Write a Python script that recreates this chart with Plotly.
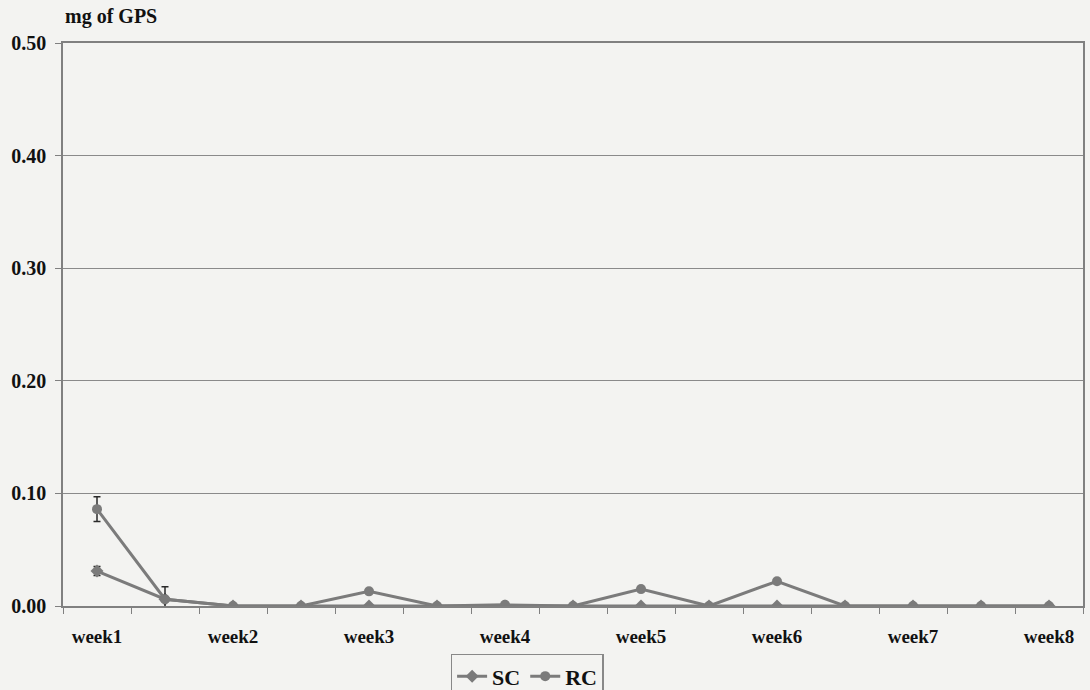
import plotly.graph_objects as go

# Sampling points (two per week), labelled on every week
week_labels = ["week1", "week2", "week3", "week4", "week5", "week6", "week7", "week8"]
sample_index = list(range(15))
label_index = [0, 2, 4, 6, 8, 10, 12, 14]

# mg of GPS released per sample
sc_values = [0.031, 0.006, 0.0, 0.0, 0.0, 0.0, 0.0, 0.0, 0.0, 0.0, 0.0, 0.0, 0.0, 0.0, 0.0]
sc_error = [0.004, 0.0, 0.0, 0.0, 0.0, 0.0, 0.0, 0.0, 0.0, 0.0, 0.0, 0.0, 0.0, 0.0, 0.0]
rc_values = [0.086, 0.006, 0.0, 0.0, 0.013, 0.0, 0.001, 0.0, 0.015, 0.0, 0.022, 0.0, 0.0, 0.0, 0.0]
rc_error = [0.011, 0.011, 0.0, 0.0, 0.0, 0.0, 0.0, 0.0, 0.0, 0.0, 0.0, 0.0, 0.0, 0.0, 0.0]

y_ticks = [0.0, 0.1, 0.2, 0.3, 0.4, 0.5]

SERIF = "Liberation Serif"
LINE_GREY = "#7b7b7b"
BG = "#f3f3f1"
TEXT = "#111111"

fig = go.Figure()

fig.add_trace(go.Scatter(
    x=sample_index, y=sc_values, name="SC", mode="lines+markers",
    line=dict(color=LINE_GREY, width=3),
    marker=dict(symbol="diamond", size=10, color=LINE_GREY),
    error_y=dict(type="data", array=sc_error, visible=True,
                 color="#2a2a2a", thickness=1.5, width=3.5),
))
fig.add_trace(go.Scatter(
    x=sample_index, y=rc_values, name="RC", mode="lines+markers",
    line=dict(color=LINE_GREY, width=3),
    marker=dict(symbol="circle", size=10, color=LINE_GREY),
    error_y=dict(type="data", array=rc_error, visible=True,
                 color="#2a2a2a", thickness=1.5, width=3.5),
))

fig.update_layout(
    width=1090, height=690,
    margin=dict(l=63, r=7, t=43, b=84, autoexpand=False),
    paper_bgcolor=BG, plot_bgcolor=BG,
    font=dict(family=SERIF, size=18, color=TEXT),
    showlegend=True,
    legend=dict(
        orientation="h", x=0.455, xanchor="center", y=-0.085, yanchor="top",
        bgcolor=BG, bordercolor="#888888", borderwidth=1.5,
        font=dict(family=SERIF, size=22, color=TEXT, weight="bold"),
        itemwidth=30, tracegroupgap=0,
    ),
    annotations=[dict(
        text="<b>mg of GPS</b>", xref="paper", yref="paper",
        x=0.0, y=1.0, xanchor="left", yanchor="bottom", yshift=13,
        showarrow=False, font=dict(family=SERIF, size=20, color=TEXT),
    )],
)

fig.update_xaxes(
    range=[-0.5, 14.5], tickmode="array", tickvals=label_index, ticktext=week_labels,
    ticks="", showgrid=False, zeroline=False, ticklabelstandoff=12,
    showline=True, linecolor="#808080", linewidth=1.5, mirror=True,
    tickfont=dict(family=SERIF, size=19, color=TEXT, weight="bold"),
    minor=dict(tickmode="linear", tick0=-0.5, dtick=1, ticks="outside",
               ticklen=6, tickcolor="#808080", tickwidth=1, showgrid=False),
)
fig.update_yaxes(
    range=[0, 0.5], tickmode="array", tickvals=y_ticks,
    ticktext=[f"{v:.2f}" for v in y_ticks],
    ticks="outside", ticklen=6, tickcolor="#808080", ticklabelstandoff=5,
    showgrid=True, gridcolor="#8a8a8a", gridwidth=1, zeroline=False,
    showline=True, linecolor="#808080", linewidth=1.5, mirror=True,
    tickfont=dict(family=SERIF, size=20, color=TEXT, weight="bold"),
)

fig.write_html("out.html")
